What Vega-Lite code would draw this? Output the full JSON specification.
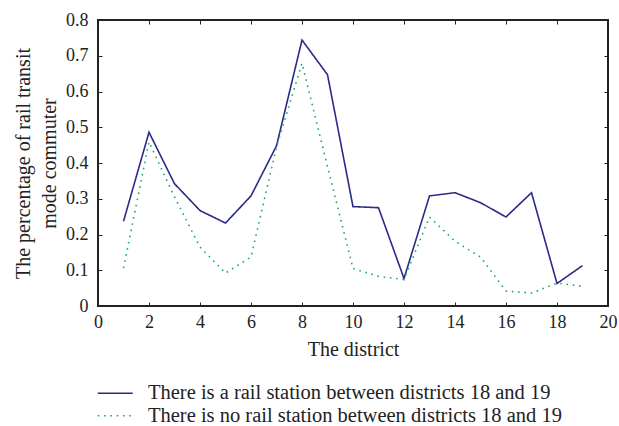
{
  "$schema": "https://vega.github.io/schema/vega-lite/v6.json",
  "width": 510,
  "height": 286,
  "autosize": {"type": "none"},
  "padding": {"left": 98, "top": 20, "right": 11, "bottom": 120},
  "background": "white",
  "config": {
    "font": "Liberation Serif",
    "view": {"stroke": "#222222", "strokeWidth": 2},
    "axis": {"grid": false, "domain": false, "tickColor": "#222222", "tickSize": -4, "tickWidth": 1, "labelFont": "Liberation Serif", "labelFontSize": 18, "labelColor": "#222222", "titleFont": "Liberation Serif", "titleFontSize": 20, "titleFontWeight": "normal", "titleColor": "#222222"}
  },
  "data": {"values": [
    {"d": 1, "v": 0.237, "s": "There is a rail station between districts 18 and 19"},
    {"d": 2, "v": 0.486, "s": "There is a rail station between districts 18 and 19"},
    {"d": 3, "v": 0.342, "s": "There is a rail station between districts 18 and 19"},
    {"d": 4, "v": 0.267, "s": "There is a rail station between districts 18 and 19"},
    {"d": 5, "v": 0.232, "s": "There is a rail station between districts 18 and 19"},
    {"d": 6, "v": 0.308, "s": "There is a rail station between districts 18 and 19"},
    {"d": 7, "v": 0.448, "s": "There is a rail station between districts 18 and 19"},
    {"d": 8, "v": 0.744, "s": "There is a rail station between districts 18 and 19"},
    {"d": 9, "v": 0.647, "s": "There is a rail station between districts 18 and 19"},
    {"d": 10, "v": 0.278, "s": "There is a rail station between districts 18 and 19"},
    {"d": 11, "v": 0.275, "s": "There is a rail station between districts 18 and 19"},
    {"d": 12, "v": 0.077, "s": "There is a rail station between districts 18 and 19"},
    {"d": 13, "v": 0.308, "s": "There is a rail station between districts 18 and 19"},
    {"d": 14, "v": 0.317, "s": "There is a rail station between districts 18 and 19"},
    {"d": 15, "v": 0.289, "s": "There is a rail station between districts 18 and 19"},
    {"d": 16, "v": 0.249, "s": "There is a rail station between districts 18 and 19"},
    {"d": 17, "v": 0.317, "s": "There is a rail station between districts 18 and 19"},
    {"d": 18, "v": 0.063, "s": "There is a rail station between districts 18 and 19"},
    {"d": 19, "v": 0.113, "s": "There is a rail station between districts 18 and 19"},
    {"d": 1, "v": 0.106, "s": "There is no rail station between districts 18 and 19"},
    {"d": 2, "v": 0.459, "s": "There is no rail station between districts 18 and 19"},
    {"d": 3, "v": 0.305, "s": "There is no rail station between districts 18 and 19"},
    {"d": 4, "v": 0.165, "s": "There is no rail station between districts 18 and 19"},
    {"d": 5, "v": 0.092, "s": "There is no rail station between districts 18 and 19"},
    {"d": 6, "v": 0.137, "s": "There is no rail station between districts 18 and 19"},
    {"d": 7, "v": 0.445, "s": "There is no rail station between districts 18 and 19"},
    {"d": 8, "v": 0.679, "s": "There is no rail station between districts 18 and 19"},
    {"d": 9, "v": 0.39, "s": "There is no rail station between districts 18 and 19"},
    {"d": 10, "v": 0.105, "s": "There is no rail station between districts 18 and 19"},
    {"d": 11, "v": 0.083, "s": "There is no rail station between districts 18 and 19"},
    {"d": 12, "v": 0.074, "s": "There is no rail station between districts 18 and 19"},
    {"d": 13, "v": 0.249, "s": "There is no rail station between districts 18 and 19"},
    {"d": 14, "v": 0.181, "s": "There is no rail station between districts 18 and 19"},
    {"d": 15, "v": 0.137, "s": "There is no rail station between districts 18 and 19"},
    {"d": 16, "v": 0.042, "s": "There is no rail station between districts 18 and 19"},
    {"d": 17, "v": 0.036, "s": "There is no rail station between districts 18 and 19"},
    {"d": 18, "v": 0.064, "s": "There is no rail station between districts 18 and 19"},
    {"d": 19, "v": 0.055, "s": "There is no rail station between districts 18 and 19"}
  ]},
  "resolve": {"axis": {"x": "independent", "y": "independent"}},
  "layer": [
    {
      "mark": {"type": "line", "strokeWidth": 1.6},
      "encoding": {
        "x": {"field": "d", "type": "quantitative", "scale": {"domain": [0, 20], "nice": false},
          "axis": {"values": [0, 2, 4, 6, 8, 10, 12, 14, 16, 18, 20], "title": "The district", "labelPadding": 11, "titlePadding": 8, "labelFlush": false}},
        "y": {"field": "v", "type": "quantitative", "scale": {"domain": [0, 0.8], "nice": false},
          "axis": {"values": [0, 0.1, 0.2, 0.3, 0.4, 0.5, 0.6, 0.7, 0.8], "format": "~g", "title": ["The percentage of rail transit", "mode commuter"], "titleLineHeight": 26, "labelPadding": 14, "titlePadding": 6, "labelFlush": false}},
        "color": {"field": "s", "type": "nominal", "scale": {"range": ["#2b2a88", "#1fa870"]},
          "legend": {"orient": "none", "legendX": 7, "legendY": 363, "title": null, "symbolType": "M-3.5,0H3.5", "symbolSize": 100, "symbolStrokeWidth": 1.6, "labelFontSize": 20.5, "labelFont": "Liberation Serif", "labelColor": "#222222", "labelOffset": 22.5, "rowPadding": 1.5, "labelLimit": 600}},
        "strokeDash": {"field": "s", "type": "nominal", "scale": {"range": [[1, 0], [1.6, 4.7]]}, "legend": {"orient": "none", "legendX": 7, "legendY": 363, "title": null, "symbolType": "M-3.5,0H3.5", "symbolSize": 100, "symbolStrokeWidth": 1.6, "labelFontSize": 20.5, "labelFont": "Liberation Serif", "labelColor": "#222222", "labelOffset": 22.5, "rowPadding": 1.5, "labelLimit": 600}}
      }
    },
    {
      "mark": {"type": "point", "opacity": 0},
      "encoding": {
        "x": {"field": "d", "type": "quantitative", "axis": {"orient": "top", "values": [2, 4, 6, 8, 10, 12, 14, 16, 18], "labels": false, "title": null}},
        "y": {"field": "v", "type": "quantitative", "axis": {"orient": "right", "values": [0.1, 0.2, 0.3, 0.4, 0.5, 0.6, 0.7], "labels": false, "title": null}}
      }
    }
  ]
}
